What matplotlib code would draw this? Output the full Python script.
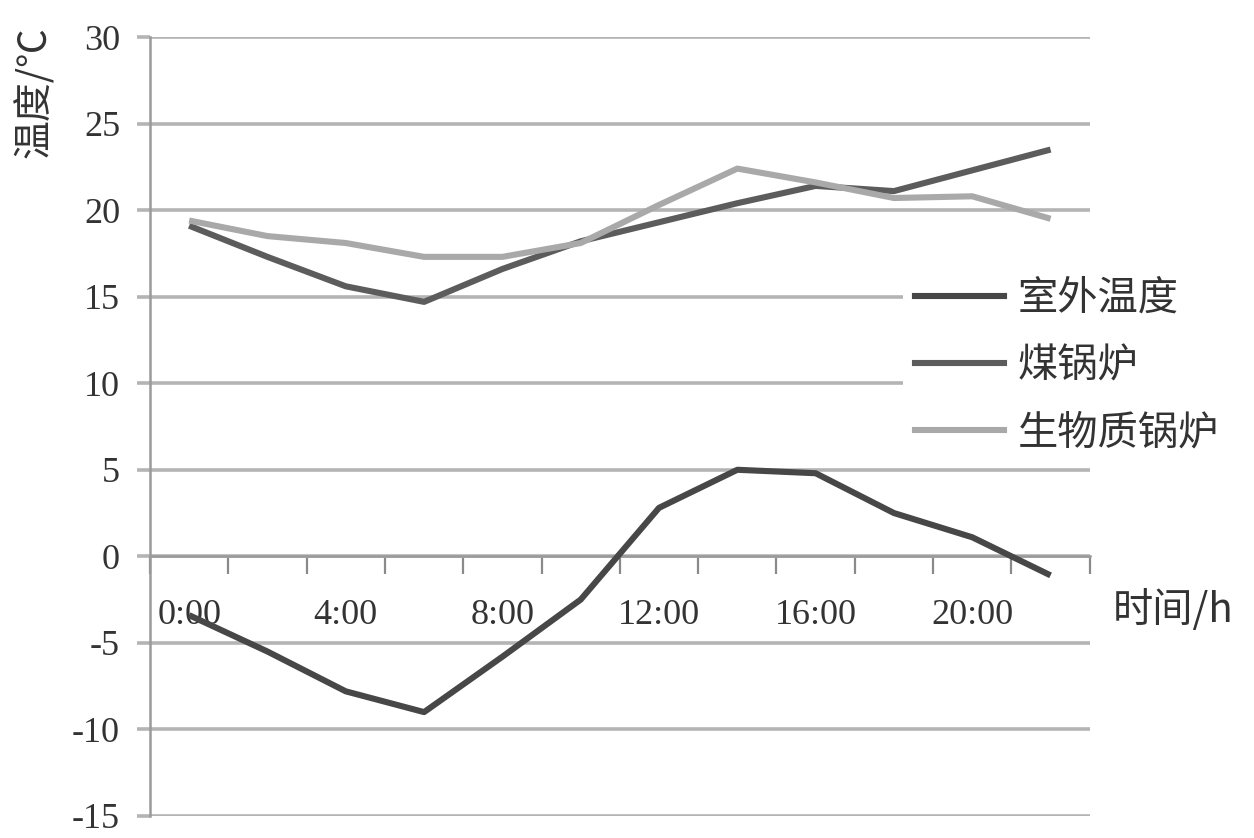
import matplotlib
matplotlib.use('Agg')
import matplotlib.pyplot as plt
from matplotlib.lines import Line2D

plt.rcParams['font.family'] = ['Liberation Serif', 'Noto Sans CJK SC', 'DejaVu Sans']
plt.rcParams['axes.unicode_minus'] = False

# === Données : température toutes les 2 h ===
heures = ['0:00', '2:00', '4:00', '6:00', '8:00', '10:00',
          '12:00', '14:00', '16:00', '18:00', '20:00', '22:00']
t_exterieur = [-3.4, -5.5, -7.8, -9.0, -5.8, -2.5, 2.8, 5.0, 4.8, 2.5, 1.1, -1.1]
t_charbon = [19.1, 17.3, 15.6, 14.7, 16.6, 18.2, 19.3, 20.4, 21.4, 21.1, 22.3, 23.5]
t_biomasse = [19.4, 18.5, 18.1, 17.3, 17.3, 18.1, 20.3, 22.4, 21.6, 20.7, 20.8, 19.5]
noms = ['室外温度', '煤锅炉', '生物质锅炉']
couleurs = ['#474747', '#5c5c5c', '#a9a9a9']

grille = '#b4b4b4'
texte = '#333333'

fig = plt.figure(figsize=(12.54, 8.38), dpi=100)
ax = fig.add_axes([0.1196, 0.0263, 0.869 - 0.1196, 0.9558 - 0.0263])

x = list(range(len(heures)))
for serie, c in zip([t_exterieur, t_charbon, t_biomasse], couleurs):
    ax.plot(x, serie, color=c, lw=4.4, solid_capstyle='butt', zorder=3)

# axes
ax.set_xlim(-0.5, len(heures) - 0.5)
ax.set_ylim(-15, 30)
ax.set_yticks(range(-15, 31, 5))
ax.yaxis.grid(True, color=grille, lw=2.6, zorder=1)
ax.set_axisbelow(True)
ax.tick_params(axis='y', length=9.5, width=2.6, color=grille, pad=12,
               labelsize=26, labelcolor=texte)

for s in ['top', 'right']:
    ax.spines[s].set_visible(False)
ax.spines['left'].set_color('#9a9a9a')
ax.spines['left'].set_linewidth(1.8)
ax.spines['bottom'].set_position(('data', 0))
ax.spines['bottom'].set_color('#9a9a9a')
ax.spines['bottom'].set_linewidth(1.8)

# graduations entre catégories, étiquettes une sur deux
ax.set_xticks([i - 0.5 for i in range(len(heures) + 1)])
ax.set_xticklabels([])
ax.tick_params(axis='x', which='major', direction='out', length=13,
               width=1.6, color='#8a8a8a')
ax.set_xticks(x[::2], minor=True)
ax.set_xticklabels(heures[::2], minor=True)
ax.tick_params(axis='x', which='minor', length=0, pad=31,
               labelsize=26, labelcolor=texte)

fig.text(35 / 1254, 1 - 26 / 838, '温度/℃', rotation=90, va='top', ha='center',
         fontsize=28, color=texte, family=['Noto Sans CJK SC', 'DejaVu Sans'])
fig.text(1113 / 1254, 1 - 610 / 838, '时间/h', va='center', ha='left',
         fontsize=29, color=texte, family=['Noto Sans CJK SC', 'DejaVu Sans'])

poignees = [Line2D([0], [0], color=c, lw=4.4) for c in couleurs]
leg = fig.legend(poignees, noms, loc='upper left',
                 bbox_to_anchor=(903 / 1254, 1 - 266 / 838),
                 frameon=True, facecolor='white', edgecolor='none', framealpha=1,
                 fancybox=False, handlelength=2.2, handletextpad=0.35,
                 labelspacing=0.65, borderpad=0.3, borderaxespad=0,
                 prop={'family': ['Noto Sans CJK SC', 'DejaVu Sans'], 'size': 29})
for t in leg.get_texts():
    t.set_color(texte)

plt.savefig('out.png', dpi=100, facecolor='white')
